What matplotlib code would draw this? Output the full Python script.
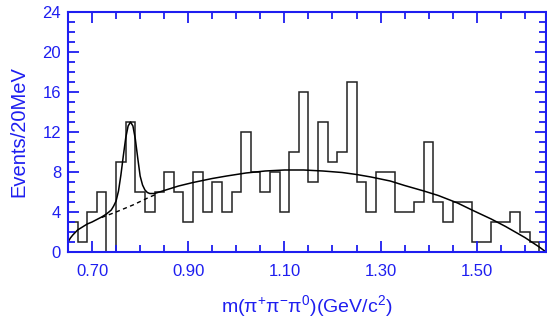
import matplotlib
matplotlib.use("Agg")
import matplotlib.pyplot as plt
from matplotlib import rcParams
from matplotlib.ticker import MultipleLocator
import numpy as np

rcParams.update({
    "font.family": ["Liberation Sans", "DejaVu Sans"],
    "mathtext.fontset": "custom",
    "mathtext.rm": "Liberation Sans",
    "mathtext.it": "Liberation Sans:italic",
})

blue = "#1e1ef0"

# histogram: 20 MeV bins starting at 0.65 GeV
bin_lo = 0.65
bin_w = 0.02
counts = [3, 1, 4, 6, 0, 9, 13, 6, 4, 6,
          8, 6, 3, 8, 4, 7, 4, 6, 12, 8,
          6, 8, 4, 10, 16, 7, 13, 9, 10, 17,
          7, 4, 8, 8, 4, 4, 5, 11, 5, 3,
          5, 5, 1, 1, 3, 3, 4, 2, 1, 0]

# total fit (background + omega peak)
fit_x = [0.650, 0.655, 0.660, 0.670, 0.680, 0.690, 0.700, 0.710, 0.720, 0.730,
         0.740, 0.745, 0.750, 0.755, 0.760, 0.765, 0.770, 0.775, 0.780, 0.785,
         0.790, 0.795, 0.800, 0.805, 0.810, 0.815, 0.820, 0.830, 0.840, 0.860,
         0.880, 0.910, 0.950, 0.980, 1.020, 1.060, 1.100, 1.140, 1.180, 1.220,
         1.250, 1.280, 1.320, 1.350, 1.390, 1.420, 1.460, 1.490, 1.530, 1.560,
         1.600, 1.630, 1.644]
fit_y = [1.0, 1.4, 1.7, 2.2, 2.5, 2.8, 3.0, 3.25, 3.5, 3.8,
         4.2, 4.6, 5.1, 6.1, 7.7, 9.6, 11.4, 12.6, 13.0, 12.6,
         11.3, 9.4, 7.6, 6.7, 6.2, 5.95, 5.85, 5.85, 6.0, 6.3,
         6.6, 6.95, 7.35, 7.6, 7.9, 8.1, 8.2, 8.2, 8.1, 7.95,
         7.75, 7.5, 7.1, 6.65, 6.1, 5.65, 4.9, 4.2, 3.3, 2.55,
         1.45, 0.5, 0.0]

# background under the peak (dashed)
bg_x = [0.720, 0.750, 0.785, 0.820, 0.835]
bg_y = [3.45, 4.0, 4.7, 5.5, 5.8]

x_ticks = [0.70, 0.90, 1.10, 1.30, 1.50]
y_ticks = [0, 4, 8, 12, 16, 20, 24]

fig = plt.figure(figsize=(5.47, 3.20), dpi=100)
ax = fig.add_axes([68 / 547, 68 / 320, 478 / 547, 240 / 320])

edges = bin_lo + bin_w * np.arange(len(counts) + 1)
ax.stairs(counts, edges, baseline=0, color="#222222", linewidth=1.1)
ax.plot(fit_x, fit_y, color="black", linewidth=1.1)
ax.plot(bg_x, bg_y, color="black", linewidth=1.0, dashes=(3, 2.5))

ax.set_xlim(0.65, 1.644)
ax.set_ylim(0, 24)
ax.set_xticks(x_ticks)
ax.set_xticklabels(["%.2f" % v for v in x_ticks])
ax.set_yticks(y_ticks)
ax.xaxis.set_minor_locator(MultipleLocator(0.05))
ax.yaxis.set_minor_locator(MultipleLocator(1))

for s in ax.spines.values():
    s.set_color(blue)
    s.set_linewidth(1.5)
ax.tick_params(which="both", direction="in", color=blue, labelcolor=blue,
               top=True, right=True, width=1.3, labelsize=12)
ax.tick_params(which="major", length=8)
ax.tick_params(which="minor", length=5)
ax.tick_params(axis="x", pad=9)
ax.tick_params(axis="y", pad=5)

ax.set_xlabel(r"m(π$^{+}$π$^{-}$π$^{0}$)(GeV/c$^{2}$)", color=blue, fontsize=14,
              labelpad=10)
ax.set_ylabel("Events/20MeV", color=blue, fontsize=14.5, labelpad=10)

fig.savefig("out.png", dpi=100)
